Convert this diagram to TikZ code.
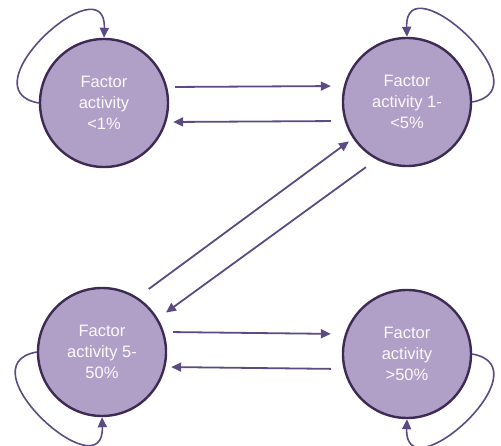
\documentclass[tikz,border=0pt]{standalone}
\usepackage{fontspec}
\setmainfont{Liberation Sans}
\usetikzlibrary{arrows.meta}
\definecolor{statefill}{HTML}{B09FC7}
\definecolor{stateedge}{HTML}{3D2B55}
\definecolor{arrowpurple}{HTML}{5C4A82}
\tikzset{state/.style={
    circle, draw=stateedge, fill=statefill, line width=2.4pt,
    minimum size=128pt, inner sep=0pt, align=center,
    text=white!95!statefill, font=\fontsize{16.5}{21}\selectfont
  },
  trans/.style={
    draw=arrowpurple, line width=1.8pt,
    -{Triangle[length=10pt,width=9pt]}
  },
  selfloop/.style={trans, line width=1.6pt, looseness=2.1}
}

\begin{document}
\begin{tikzpicture}[x=1pt,y=-1pt]
    \useasboundingbox (0,0) rectangle (501,446);

    \node[state] (low)  at (104,103) {Factor\\activity\\<1\%};
    \node[state] (mild) at (407,102) {Factor\\activity 1-\\<5\%};
    \node[state] (mod)  at (102,352) {Factor\\activity 5-\\50\%};
    \node[state] (high) at (407,354) {Factor\\activity\\>50\%};

    % horizontal pairs
    \draw[trans, shorten <=6pt, shorten >=11pt] ([yshift=16pt]low.east) -- ([yshift=16pt]mild.west);
    \draw[trans, shorten <=11pt, shorten >=4pt] ([yshift=-19pt]mild.west) -- ([yshift=-19pt]low.east);
    \draw[trans, shorten <=6pt, shorten >=11pt] ([yshift=20pt]mod.east) -- ([yshift=20pt]high.west);
    \draw[trans, shorten <=11pt, shorten >=4pt] ([yshift=-15pt]high.west) -- ([yshift=-15pt]mod.east);

    % diagonals
    \draw[trans, shorten <=14pt, shorten >=5pt] (mod.57) -- (mild.214);
    \draw[trans, shorten <=13pt, shorten >=10pt] (mild.242) -- (mod.31);

    % self loops
    \draw[selfloop] (low.west) to[out=170, in=88] (low.north);
    \draw[selfloop] (mild.east) to[out=10, in=92] (mild.north);
    \draw[selfloop] (mod.west) to[out=190, in=-88] (mod.south);
    \draw[selfloop] (high.east) to[out=-10, in=-92] (high.south);
\end{tikzpicture}
\end{document}
